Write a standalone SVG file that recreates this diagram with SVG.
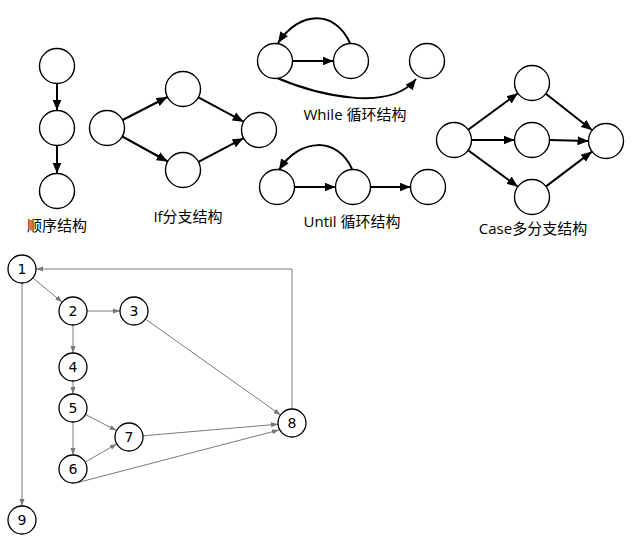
<svg xmlns="http://www.w3.org/2000/svg" width="632" height="542" viewBox="0 0 632 542">
<defs>
<marker id="ab" markerUnits="userSpaceOnUse" markerWidth="12" markerHeight="10" refX="11" refY="5" orient="auto"><path d="M0,0.5 L11,5 L0,9.5 Z" fill="#000"/></marker>
<marker id="ag" markerUnits="userSpaceOnUse" markerWidth="8" markerHeight="6" refX="7" refY="3" orient="auto"><path d="M0,0.5 L7,3 L0,5.5 Z" fill="#777"/></marker>
</defs>
<style>
.n{fill:#fff;stroke:#000;stroke-width:1.3}
.b{fill:#fff;stroke:#000;stroke-width:1.4}
.e{fill:none;stroke:#000;stroke-width:2;marker-end:url(#ab)}
.g{fill:none;stroke:#7a7a7a;stroke-width:1;marker-end:url(#ag)}
.lab{font-family:"Open Sans","Noto Sans CJK SC",sans-serif;font-size:15px;fill:#000;text-anchor:middle}
.num{font-family:"DejaVu Sans","Noto Sans",sans-serif;font-size:14px;fill:#000;text-anchor:middle}
</style>
<rect width="632" height="542" fill="#fff"/>
<g id="connectors">
<line class="e" x1="57" y1="83.5" x2="57" y2="110.5"/>
<line class="e" x1="57" y1="145.5" x2="57" y2="173.5"/>
<line class="e" x1="122.6" y1="120" x2="167.4" y2="97"/>
<line class="e" x1="198.4" y1="97.3" x2="243.6" y2="121.7"/>
<line class="e" x1="122.3" y1="136.5" x2="167.7" y2="161.5"/>
<line class="e" x1="198.5" y1="161.8" x2="243.5" y2="138.2"/>
<line class="e" x1="292.5" y1="61" x2="333.5" y2="61"/>
<path class="e" d="M350,43 C335,10 300,10 278,43"/>
<path class="e" d="M277,78 C320,96 390,112 416,79"/>
<line class="e" x1="294.5" y1="187" x2="335.5" y2="187"/>
<line class="e" x1="370.5" y1="187" x2="410.5" y2="187"/>
<path class="e" d="M352,169 C338,137 300,137 279,170"/>
<line class="e" x1="468.1" y1="129.7" x2="517.9" y2="93.3"/>
<line class="e" x1="471.5" y1="140" x2="514.5" y2="140"/>
<line class="e" x1="468.1" y1="150.3" x2="517.9" y2="186.7"/>
<line class="e" x1="545.8" y1="93.8" x2="592.2" y2="130.2"/>
<line class="e" x1="549.5" y1="140" x2="588.5" y2="141"/>
<line class="e" x1="546" y1="186.4" x2="592" y2="151.6"/>
<line class="g" x1="32.8" y1="277.9" x2="62.2" y2="302.1"/>
<line class="g" x1="87" y1="311" x2="120" y2="311"/>
<line class="g" x1="73" y1="325" x2="73" y2="353"/>
<line class="g" x1="73" y1="381" x2="73" y2="394"/>
<line class="g" x1="73" y1="422" x2="73" y2="455"/>
<line class="g" x1="85.4" y1="414.4" x2="116.6" y2="430.6"/>
<line class="g" x1="85.2" y1="462.1" x2="116.8" y2="443.9"/>
<line class="g" x1="143" y1="435.8" x2="278" y2="424.2"/>
<line class="g" x1="76" y1="483" x2="279" y2="430"/>
<line class="g" x1="145.4" y1="319.1" x2="280.6" y2="414.9"/>
<polyline class="g" points="292,409 292,269 36,269"/>
<line class="g" x1="22" y1="283" x2="22" y2="506"/>
</g>
<g id="seq1"><circle class="b" cx="57" cy="66" r="17.5"/></g>
<g id="seq2"><circle class="b" cx="57" cy="128" r="17.5"/></g>
<g id="seq3"><circle class="b" cx="57" cy="191" r="17.5"/></g>
<g id="seq-label"><text class="lab" x="57" y="231">顺序结构</text></g>
<g id="if1"><circle class="b" cx="107" cy="128" r="17.5"/></g>
<g id="if2"><circle class="b" cx="183" cy="89" r="17.5"/></g>
<g id="if3"><circle class="b" cx="183" cy="170" r="17.5"/></g>
<g id="if4"><circle class="b" cx="259" cy="130" r="17.5"/></g>
<g id="if-label"><text class="lab" x="188" y="222">If分支结构</text></g>
<g id="wh1"><circle class="b" cx="275" cy="61" r="17.5"/></g>
<g id="wh2"><circle class="b" cx="351" cy="61" r="17.5"/></g>
<g id="wh3"><circle class="b" cx="427" cy="61" r="17.5"/></g>
<g id="wh-label"><text class="lab" x="355" y="120">While 循环结构</text></g>
<g id="un1"><circle class="b" cx="277" cy="187" r="17.5"/></g>
<g id="un2"><circle class="b" cx="353" cy="187" r="17.5"/></g>
<g id="un3"><circle class="b" cx="428" cy="187" r="17.5"/></g>
<g id="un-label"><text class="lab" x="352" y="227">Until 循环结构</text></g>
<g id="ca1"><circle class="b" cx="454" cy="140" r="17.5"/></g>
<g id="ca2"><circle class="b" cx="532" cy="83" r="17.5"/></g>
<g id="ca3"><circle class="b" cx="532" cy="140" r="17.5"/></g>
<g id="ca4"><circle class="b" cx="532" cy="197" r="17.5"/></g>
<g id="ca5"><circle class="b" cx="606" cy="141" r="17.5"/></g>
<g id="ca-label"><text class="lab" x="533" y="234">Case多分支结构</text></g>
<g id="n1"><circle class="n" cx="22" cy="269" r="14"/><text class="num" x="22" y="274">1</text></g>
<g id="n2"><circle class="n" cx="73" cy="311" r="14"/><text class="num" x="73" y="316">2</text></g>
<g id="n3"><circle class="n" cx="134" cy="311" r="14"/><text class="num" x="134" y="316">3</text></g>
<g id="n4"><circle class="n" cx="73" cy="367" r="14"/><text class="num" x="73" y="372">4</text></g>
<g id="n5"><circle class="n" cx="73" cy="408" r="14"/><text class="num" x="73" y="413">5</text></g>
<g id="n6"><circle class="n" cx="73" cy="469" r="14"/><text class="num" x="73" y="474">6</text></g>
<g id="n7"><circle class="n" cx="129" cy="437" r="14"/><text class="num" x="129" y="442">7</text></g>
<g id="n8"><circle class="n" cx="292" cy="423" r="14"/><text class="num" x="292" y="428">8</text></g>
<g id="n9"><circle class="n" cx="22" cy="520" r="14"/><text class="num" x="22" y="525">9</text></g>
</svg>
